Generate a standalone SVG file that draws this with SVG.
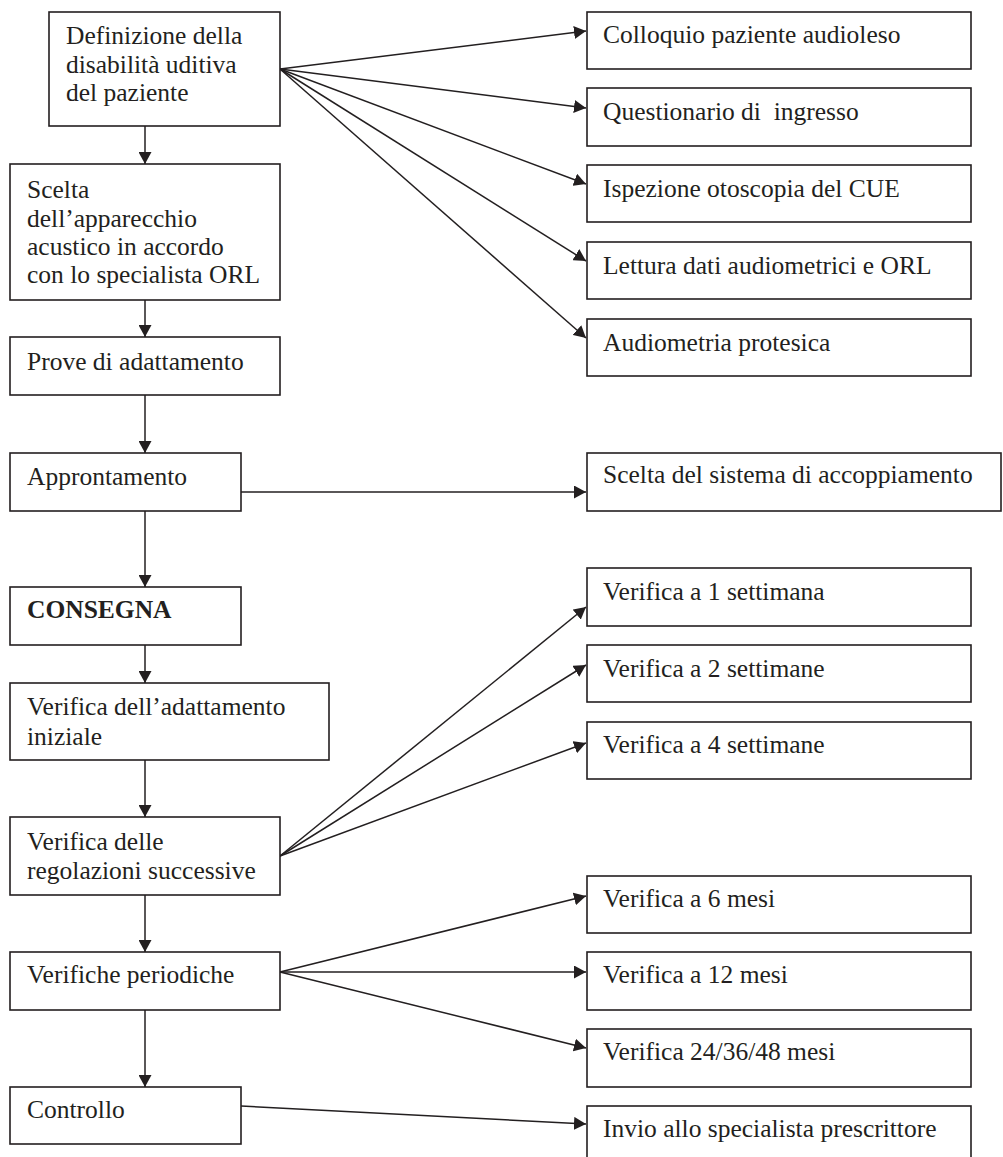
<svg xmlns="http://www.w3.org/2000/svg" width="1003" height="1157" viewBox="0 0 1003 1157">
<style>
.box{fill:#fff;stroke:#231f20;stroke-width:1.6}
.t{font-family:"Liberation Serif","Times New Roman",serif;font-size:25.5px;fill:#231f20}
.b{font-weight:bold}
.c{fill:none;stroke:#231f20;stroke-width:1.5}
</style>
<defs>
<marker id="ah" viewBox="0 0 12 13" refX="12" refY="6.5" markerWidth="12" markerHeight="13" orient="auto" markerUnits="userSpaceOnUse">
<path d="M0,0 L12,6.5 L0,13 z" fill="#231f20"/>
</marker>
</defs>
<rect width="1003" height="1157" fill="#fff"/>
<g id="connectors">
<line class="c" x1="145" y1="126" x2="145" y2="164" marker-end="url(#ah)"/>
<line class="c" x1="145" y1="300" x2="145" y2="337" marker-end="url(#ah)"/>
<line class="c" x1="145" y1="395" x2="145" y2="453" marker-end="url(#ah)"/>
<line class="c" x1="145" y1="511" x2="145" y2="587" marker-end="url(#ah)"/>
<line class="c" x1="145" y1="645" x2="145" y2="683" marker-end="url(#ah)"/>
<line class="c" x1="145" y1="760" x2="145" y2="817" marker-end="url(#ah)"/>
<line class="c" x1="145" y1="895" x2="145" y2="952" marker-end="url(#ah)"/>
<line class="c" x1="145" y1="1010" x2="145" y2="1087" marker-end="url(#ah)"/>
<line class="c" x1="280" y1="69" x2="586" y2="31" marker-end="url(#ah)"/>
<line class="c" x1="280" y1="69" x2="586" y2="108" marker-end="url(#ah)"/>
<line class="c" x1="280" y1="69" x2="586" y2="184" marker-end="url(#ah)"/>
<line class="c" x1="280" y1="69" x2="586" y2="261" marker-end="url(#ah)"/>
<line class="c" x1="280" y1="69" x2="586" y2="338" marker-end="url(#ah)"/>
<line class="c" x1="241" y1="492" x2="586" y2="492" marker-end="url(#ah)"/>
<line class="c" x1="280" y1="856" x2="586" y2="607" marker-end="url(#ah)"/>
<line class="c" x1="280" y1="856" x2="586" y2="665" marker-end="url(#ah)"/>
<line class="c" x1="280" y1="856" x2="586" y2="743" marker-end="url(#ah)"/>
<line class="c" x1="280" y1="972" x2="586" y2="896" marker-end="url(#ah)"/>
<line class="c" x1="280" y1="972" x2="586" y2="972" marker-end="url(#ah)"/>
<line class="c" x1="280" y1="972" x2="586" y2="1048" marker-end="url(#ah)"/>
<line class="c" x1="241" y1="1106" x2="586" y2="1124" marker-end="url(#ah)"/>
</g>
<g id="n1"><rect class="box" x="49" y="12" width="231" height="114"/>
<text class="t" x="66" y="44">Definizione della</text>
<text class="t" x="66" y="73">disabilità uditiva</text>
<text class="t" x="66" y="101">del paziente</text></g>
<g id="n2"><rect class="box" x="10" y="164" width="270" height="136"/>
<text class="t" x="27" y="198">Scelta</text>
<text class="t" x="27" y="227">dell’apparecchio</text>
<text class="t" x="27" y="255">acustico in accordo</text>
<text class="t" x="27" y="283">con lo specialista ORL</text></g>
<g id="n3"><rect class="box" x="10" y="337" width="270" height="58"/>
<text class="t" x="27" y="370">Prove di adattamento</text></g>
<g id="n4"><rect class="box" x="10" y="453" width="231" height="58"/>
<text class="t" x="27" y="485">Approntamento</text></g>
<g id="n5"><rect class="box" x="10" y="587" width="231" height="58"/>
<text class="t b" x="27" y="618">CONSEGNA</text></g>
<g id="n6"><rect class="box" x="10" y="683" width="319" height="77"/>
<text class="t" x="27" y="715">Verifica dell’adattamento</text>
<text class="t" x="27" y="745">iniziale</text></g>
<g id="n7"><rect class="box" x="10" y="817" width="270" height="78"/>
<text class="t" x="27" y="850">Verifica delle</text>
<text class="t" x="27" y="879">regolazioni successive</text></g>
<g id="n8"><rect class="box" x="10" y="952" width="270" height="58"/>
<text class="t" x="27" y="983">Verifiche periodiche</text></g>
<g id="n9"><rect class="box" x="10" y="1087" width="231" height="57"/>
<text class="t" x="27" y="1118">Controllo</text></g>
<g id="r1"><rect class="box" x="587" y="12" width="384" height="57"/>
<text class="t" x="603" y="43">Colloquio paziente audioleso</text></g>
<g id="r2"><rect class="box" x="587" y="88" width="384" height="58"/>
<text class="t" x="603" y="120" xml:space="preserve">Questionario di  ingresso</text></g>
<g id="r3"><rect class="box" x="587" y="165" width="384" height="57"/>
<text class="t" x="603" y="197">Ispezione otoscopia del CUE</text></g>
<g id="r4"><rect class="box" x="587" y="242" width="384" height="57"/>
<text class="t" x="603" y="274">Lettura dati audiometrici e ORL</text></g>
<g id="r5"><rect class="box" x="587" y="319" width="384" height="57"/>
<text class="t" x="603" y="351">Audiometria protesica</text></g>
<g id="r6"><rect class="box" x="587" y="453" width="414" height="58"/>
<text class="t" x="603" y="483">Scelta del sistema di accoppiamento</text></g>
<g id="r7"><rect class="box" x="587" y="568" width="384" height="58"/>
<text class="t" x="603" y="600">Verifica a 1 settimana</text></g>
<g id="r8"><rect class="box" x="587" y="645" width="384" height="57"/>
<text class="t" x="603" y="677">Verifica a 2 settimane</text></g>
<g id="r9"><rect class="box" x="587" y="722" width="384" height="57"/>
<text class="t" x="603" y="753">Verifica a 4 settimane</text></g>
<g id="r10"><rect class="box" x="587" y="876" width="384" height="57"/>
<text class="t" x="603" y="907">Verifica a 6 mesi</text></g>
<g id="r11"><rect class="box" x="587" y="952" width="384" height="58"/>
<text class="t" x="603" y="983">Verifica a 12 mesi</text></g>
<g id="r12"><rect class="box" x="587" y="1029" width="384" height="58"/>
<text class="t" x="603" y="1060">Verifica 24/36/48 mesi</text></g>
<g id="r13"><rect class="box" x="587" y="1106" width="384" height="60"/>
<text class="t" x="603" y="1137">Invio allo specialista prescrittore</text></g>
</svg>
